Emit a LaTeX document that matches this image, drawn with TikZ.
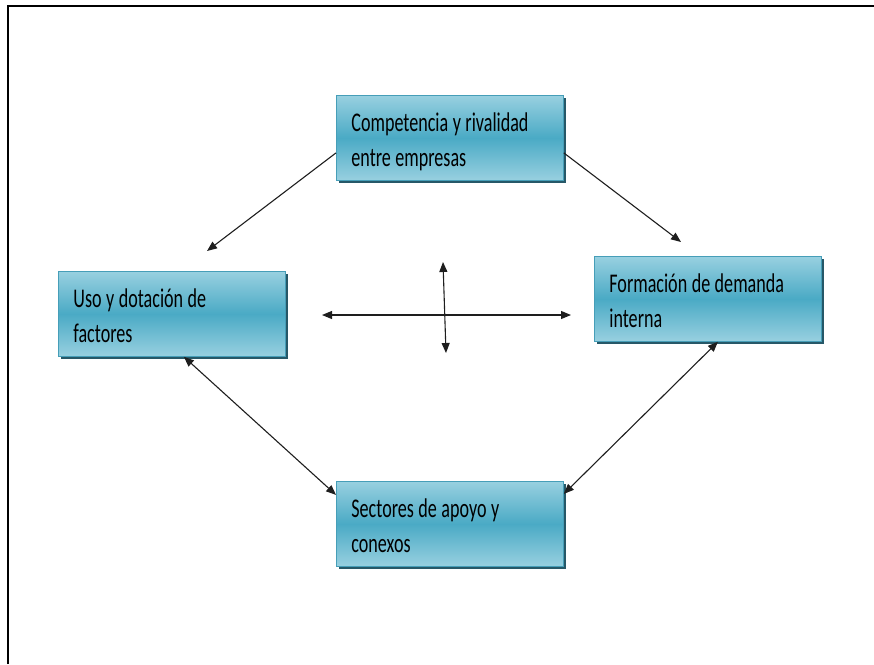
\documentclass[tikz,border=0pt]{standalone}
\usepackage{fontspec}
\setmainfont[FakeStretch=0.67]{Carlito}
\usetikzlibrary{shadows}
\usetikzlibrary{arrows.meta}
\definecolor{boxlight}{RGB}{152,208,224}
\definecolor{boxdark}{RGB}{74,170,197}
\definecolor{boxline}{RGB}{70,158,184}
\definecolor{boxshadow}{RGB}{38,88,104}
\definecolor{arrowgray}{RGB}{30,30,30}
\pgfdeclareverticalshading{boxshade}{100bp}{
	color(0bp)=(boxlight); color(25bp)=(boxlight); color(50bp)=(boxdark);
	color(75bp)=(boxlight); color(100bp)=(boxlight)}
\tikzset{
	factorbox/.style={draw=boxline, line width=0.8pt, anchor=north west,
		shading=boxshade,
		minimum width=227pt, minimum height=85pt, text width=197pt,
		inner xsep=15pt, align=left,
		font={\fontsize{27}{35}\selectfont},
		execute at begin node={\spaceskip=4.5pt plus 0.5pt\rule{0pt}{30pt}},
		execute at end node={\rule[-8pt]{0pt}{8pt}},
		drop shadow={shadow xshift=3pt, shadow yshift=-3pt, fill=boxshadow, opacity=1}},
	oneway/.style={draw=arrowgray, line width=1.1pt, -{Triangle[length=10pt,width=8pt]}},
	twoway/.style={draw=arrowgray, line width=1.1pt, {Triangle[length=10pt,width=8pt]}-{Triangle[length=10pt,width=8pt]}}
}
\begin{document}
\begin{tikzpicture}[x=1pt, y=-1pt]
	% page 874 x 664, coordinates in pixels from the top left
	\useasboundingbox (0,0) rectangle (874,664);
	\draw[line width=2.5pt] (8,664) -- (8,6) -- (874,6);

	% the four boxes
	\node[factorbox] (comp) at (336,95) {Competencia y rivalidad\\entre empresas};
	\node[factorbox] (fact) at (58,271) {Uso y dotación de\\factores};
	\node[factorbox] (dem) at (594,256) {Formación de demanda\\interna};
	\node[factorbox] (sect) at (336,481) {Sectores de apoyo y\\conexos};

	% free ends
	\coordinate (tofact) at (207,251);
	\coordinate (todem) at (681,242);
	\coordinate (hleft) at (322,315);
	\coordinate (hright) at (571,315);
	\coordinate (vtop) at (443,262);
	\coordinate (vbot) at (446,353);

	% arrows
	\draw[oneway] ([yshift=-15pt]comp.west) -- (tofact);
	\draw[oneway] ([yshift=-15pt]comp.east) -- (todem);
	\draw[twoway] (hleft) -- (hright);
	\draw[twoway] (vtop) -- (vbot);
	\draw[twoway] ([xshift=12pt]fact.south) -- ([yshift=29pt]sect.west);
	\draw[twoway] ([xshift=10pt]dem.south) -- ([yshift=30pt]sect.east);
\end{tikzpicture}
\end{document}
